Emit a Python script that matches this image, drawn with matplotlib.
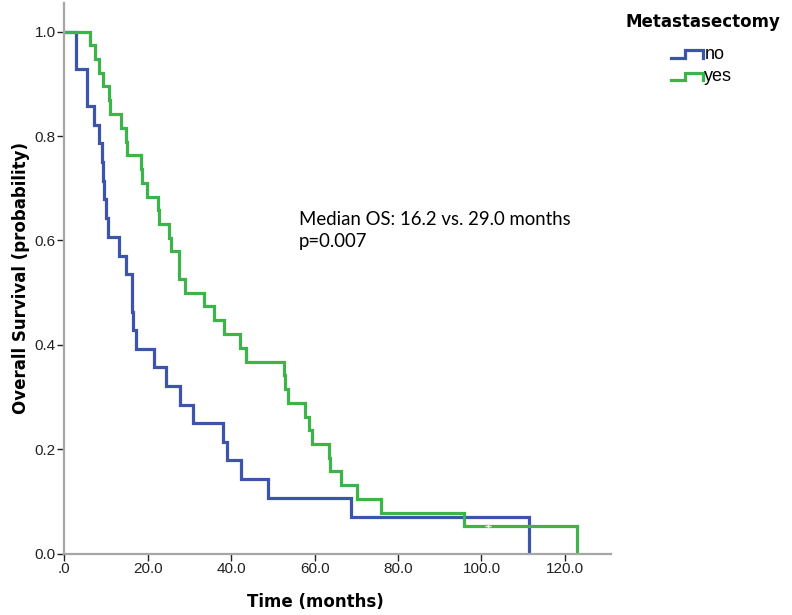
import matplotlib
matplotlib.use("Agg")
import matplotlib.pyplot as plt
import numpy as np
from matplotlib.legend_handler import HandlerBase
from matplotlib.lines import Line2D


# Kaplan-Meier steps (time in months, survival probability)
no_time = [0, 2.8, 5.5, 7.0, 8.4, 9.0, 9.2, 9.6, 9.9, 10.5, 13.0, 14.8, 16.2, 16.3, 16.4,
           17.3, 21.4, 24.3, 27.7, 30.8, 38.0, 38.9, 42.3, 48.8, 68.8, 111.5]
no_surv = [1.0, 0.929, 0.857, 0.821, 0.786, 0.750, 0.714, 0.679, 0.643, 0.607, 0.571, 0.536,
           0.500, 0.464, 0.429, 0.393, 0.357, 0.321, 0.286, 0.250, 0.214, 0.179, 0.143,
           0.107, 0.071, 0.0]

yes_time = [0, 6.1, 7.4, 8.4, 9.2, 10.8, 11.0, 13.5, 14.8, 15.0, 18.5, 18.6, 19.8, 22.4,
            22.6, 25.0, 25.6, 27.4, 27.5, 28.9, 33.6, 36.0, 38.3, 42.1, 43.6, 52.6, 53.0,
            53.6, 57.7, 58.6, 59.3, 63.4, 63.6, 66.4, 70.1, 75.9, 95.7, 122.9]
yes_surv = [1.0, 0.974, 0.947, 0.921, 0.895, 0.868, 0.842, 0.816, 0.789, 0.763, 0.737,
            0.711, 0.684, 0.658, 0.632, 0.605, 0.579, 0.553, 0.526, 0.500, 0.474, 0.447,
            0.421, 0.395, 0.368, 0.342, 0.316, 0.289, 0.263, 0.237, 0.211, 0.184, 0.158,
            0.132, 0.105, 0.079, 0.053, 0.0]

yes_censor_time = [101.6]
yes_censor_surv = [0.053]

groups = ["no", "yes"]
colors = ["#3c55aa", "#3cb44a"]

x_ticks = [0, 20, 40, 60, 80, 100, 120]
x_ticklabels = [".0", "20.0", "40.0", "60.0", "80.0", "100.0", "120.0"]
y_ticks = [0.0, 0.2, 0.4, 0.6, 0.8, 1.0]
y_ticklabels = ["0.0", "0.2", "0.4", "0.6", "0.8", "1.0"]


class StepHandler(HandlerBase):
    def create_artists(self, legend, orig_handle, xdescent, ydescent, width, height, fontsize, trans):
        x = np.array([0.0, 0.45, 0.45, 1.0, 1.0]) * width - xdescent
        y = np.array([0.1, 0.1, 0.7, 0.7, 0.1]) * height - ydescent
        line = Line2D(x, y, color=orig_handle.get_color(), lw=orig_handle.get_linewidth(),
                      solid_joinstyle="miter")
        line.set_transform(trans)
        return [line]


fig = plt.figure(figsize=(7.92, 6.15), dpi=100)
ax = fig.add_axes([0.0812, 0.0992, 0.690, 0.8963])

handles = []
for t, s, c, g in [(no_time, no_surv, colors[0], groups[0]),
                   (yes_time, yes_surv, colors[1], groups[1])]:
    h, = ax.step(t, s, where="post", color=c, lw=2.3, label=g, solid_joinstyle="miter")
    handles.append(h)

ax.plot(yes_censor_time, yes_censor_surv, marker="+", color="#e8f6e8", ms=4, mew=1, ls="none")

ax.set_xlim(0, 131)
ax.set_ylim(0, 1.055)
ax.set_xticks(x_ticks)
ax.set_xticklabels(x_ticklabels)
ax.set_yticks(y_ticks)
ax.set_yticklabels(y_ticklabels)

for side in ["top", "right"]:
    ax.spines[side].set_visible(False)
for side in ["left", "bottom"]:
    ax.spines[side].set_color("#a6a6a6")
    ax.spines[side].set_linewidth(1.6)

ax.tick_params(axis="both", direction="out", length=5, width=1, color="#222222",
               labelsize=11, pad=1)
for lab in ax.get_xticklabels() + ax.get_yticklabels():
    lab.set_family("Liberation Sans")
    lab.set_color("#222222")

ax.set_xlabel("Time (months)", fontsize=12, fontweight="bold", family="DejaVu Sans",
              va="center")
ax.xaxis.set_label_coords(0.459, -0.087)
ax.set_ylabel("Overall Survival (probability)", fontsize=12, fontweight="bold",
              family="DejaVu Sans", va="center")
ax.yaxis.set_label_coords(-0.08, 0.5)

ax.text(56.3, 0.629, "Median OS: 16.2 vs. 29.0 months", fontsize=13.4, family="Lato",
        va="baseline", ha="left")
ax.text(56.3, 0.587, "p=0.007", fontsize=13.4, family="Lato", va="baseline", ha="left")

fig.text(703 / 792, 1 - 22 / 615, "Metastasectomy", fontsize=12, fontweight="bold",
         family="DejaVu Sans", ha="center", va="center")

leg = fig.legend(handles=handles, labels=groups, loc="upper left",
                 bbox_to_anchor=(671 / 792, 1 - 46 / 615), frameon=False,
                 handler_map={Line2D: StepHandler()},
                 prop={"family": "Liberation Sans", "size": 13}, handlelength=1.75,
                 handletextpad=0.1, labelspacing=0.3, borderpad=0.0, borderaxespad=0.0)

fig.savefig("out.png", dpi=100)
